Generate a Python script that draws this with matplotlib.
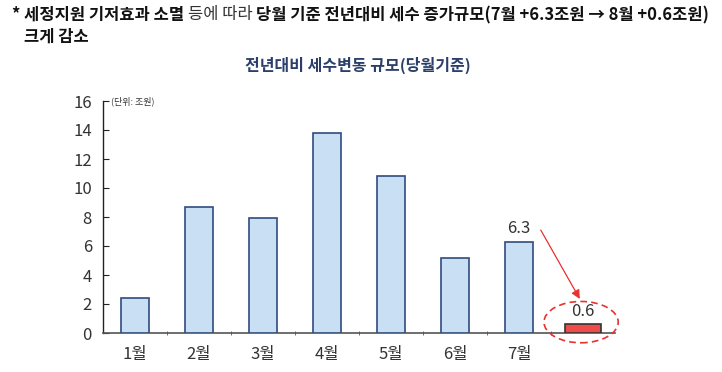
import matplotlib
matplotlib.use('Agg')
import matplotlib.pyplot as plt
import numpy as np
from matplotlib.patches import Ellipse

plt.rcParams['font.family'] = ['Noto Sans CJK KR', 'DejaVu Sans']

# data
months = ['1월', '2월', '3월', '4월', '5월', '6월', '7월', '8월']
values = [2.4, 8.7, 7.9, 13.8, 10.8, 5.2, 6.3, 0.6]
month_labels = ['1월', '2월', '3월', '4월', '5월', '6월', '7월', '']
value_labels = {6: '6.3', 7: '0.6'}
y_ticks = [0, 2, 4, 6, 8, 10, 12, 14, 16]

header_parts = [
    ('* 세정지원 기저효과 소멸 ', 'bold', '#111111'),
    ('등에 따라 ', 'normal', '#333333'),
    ('당월 기준 전년대비 세수 증가규모(7월 +6.3조원 → 8월 +0.6조원)', 'bold', '#111111'),
]
header_line2 = '크게 감소'
title = '전년대비 세수변동 규모(당월기준)'
unit = '(단위: 조원)'

blue_face = '#c9dff3'
blue_edge = '#2f4d7e'
red_face = '#f04b4b'
red_line = '#e8322f'
axis_col = '#555555'

fig = plt.figure(figsize=(7.22, 3.72), dpi=100)
ax = fig.add_axes([103 / 722, 39 / 372, 512 / 722, 232 / 372])

x = np.arange(len(months))
faces = [blue_face] * (len(months) - 1) + [red_face]
edges = [blue_edge] * (len(months) - 1) + ['#333333']
widths = [0.45] * (len(months) - 1) + [0.56]
ax.bar(x, values, width=widths, color=faces, edgecolor=edges, linewidth=1.2, zorder=3)

ax.set_xlim(-0.5, len(months) - 0.5)
ax.set_ylim(0, 16)
ax.set_yticks(y_ticks)
ax.set_yticklabels([str(t) for t in y_ticks], fontsize=12, color='#333333')
ax.set_xticks(x)
ax.set_xticklabels(month_labels, fontsize=12, color='#333333')
ax.tick_params(axis='x', length=0, pad=9)
ax.set_xticks(x[:-1] + 0.5, minor=True)
ax.tick_params(axis='x', which='minor', length=3, direction='inout', color=axis_col)
ax.tick_params(axis='y', direction='in', length=4, color='#222222', pad=8)

for side in ['top', 'right']:
    ax.spines[side].set_visible(False)
ax.spines['left'].set_color('#222222')
ax.spines['bottom'].set_color(axis_col)
ax.spines['left'].set_linewidth(1.0)
ax.spines['bottom'].set_linewidth(1.2)

# value labels
offsets = {6: 0.35, 7: 0.3}
for i, lab in value_labels.items():
    ax.text(i, values[i] + offsets[i], lab, ha='center', va='bottom', fontsize=12, color='#333333')

# highlight ellipse around last bar
last = len(months) - 1
ax.add_patch(Ellipse((last - 0.03, values[last] + 0.15), width=1.16, height=2.85, fill=False,
                     edgecolor=red_line, linestyle=(0, (4, 2.5)), linewidth=1.2,
                     clip_on=False, zorder=4))

# arrow from 7월 label toward 8월
start = (last - 0.66, values[last - 1] + 0.8)
end = (last - 0.05, values[last] + 1.75)
ax.annotate('', xy=end, xycoords='data', xytext=start, textcoords='data',
            arrowprops=dict(arrowstyle='-|>', color=red_line, lw=0.9, mutation_scale=13,
                            shrinkA=0, shrinkB=0, patchA=None))

ax.text(0.015, 1.0, unit, transform=ax.transAxes, fontsize=6.5, color='#333333', va='center')

fig.text(358 / 722, 1 - 65 / 372, title, ha='center', va='center', fontsize=11.5,
         fontweight='bold', color='#2a3f6a')

# header with mixed weights
fig.canvas.draw()
renderer = fig.canvas.get_renderer()
xpos = 12 / 722
ypos = 1 - 15 / 372
for txt, w, c in header_parts:
    t = fig.text(xpos, ypos, txt, fontsize=11.9, fontweight=w, color=c, va='center', ha='left')
    bb = t.get_window_extent(renderer=renderer)
    xpos += bb.width / fig.bbox.width
fig.text(24 / 722, 1 - 37 / 372, header_line2, fontsize=11.9, fontweight='bold', color='#111111',
         va='center', ha='left')

fig.savefig('out.png', dpi=100)
